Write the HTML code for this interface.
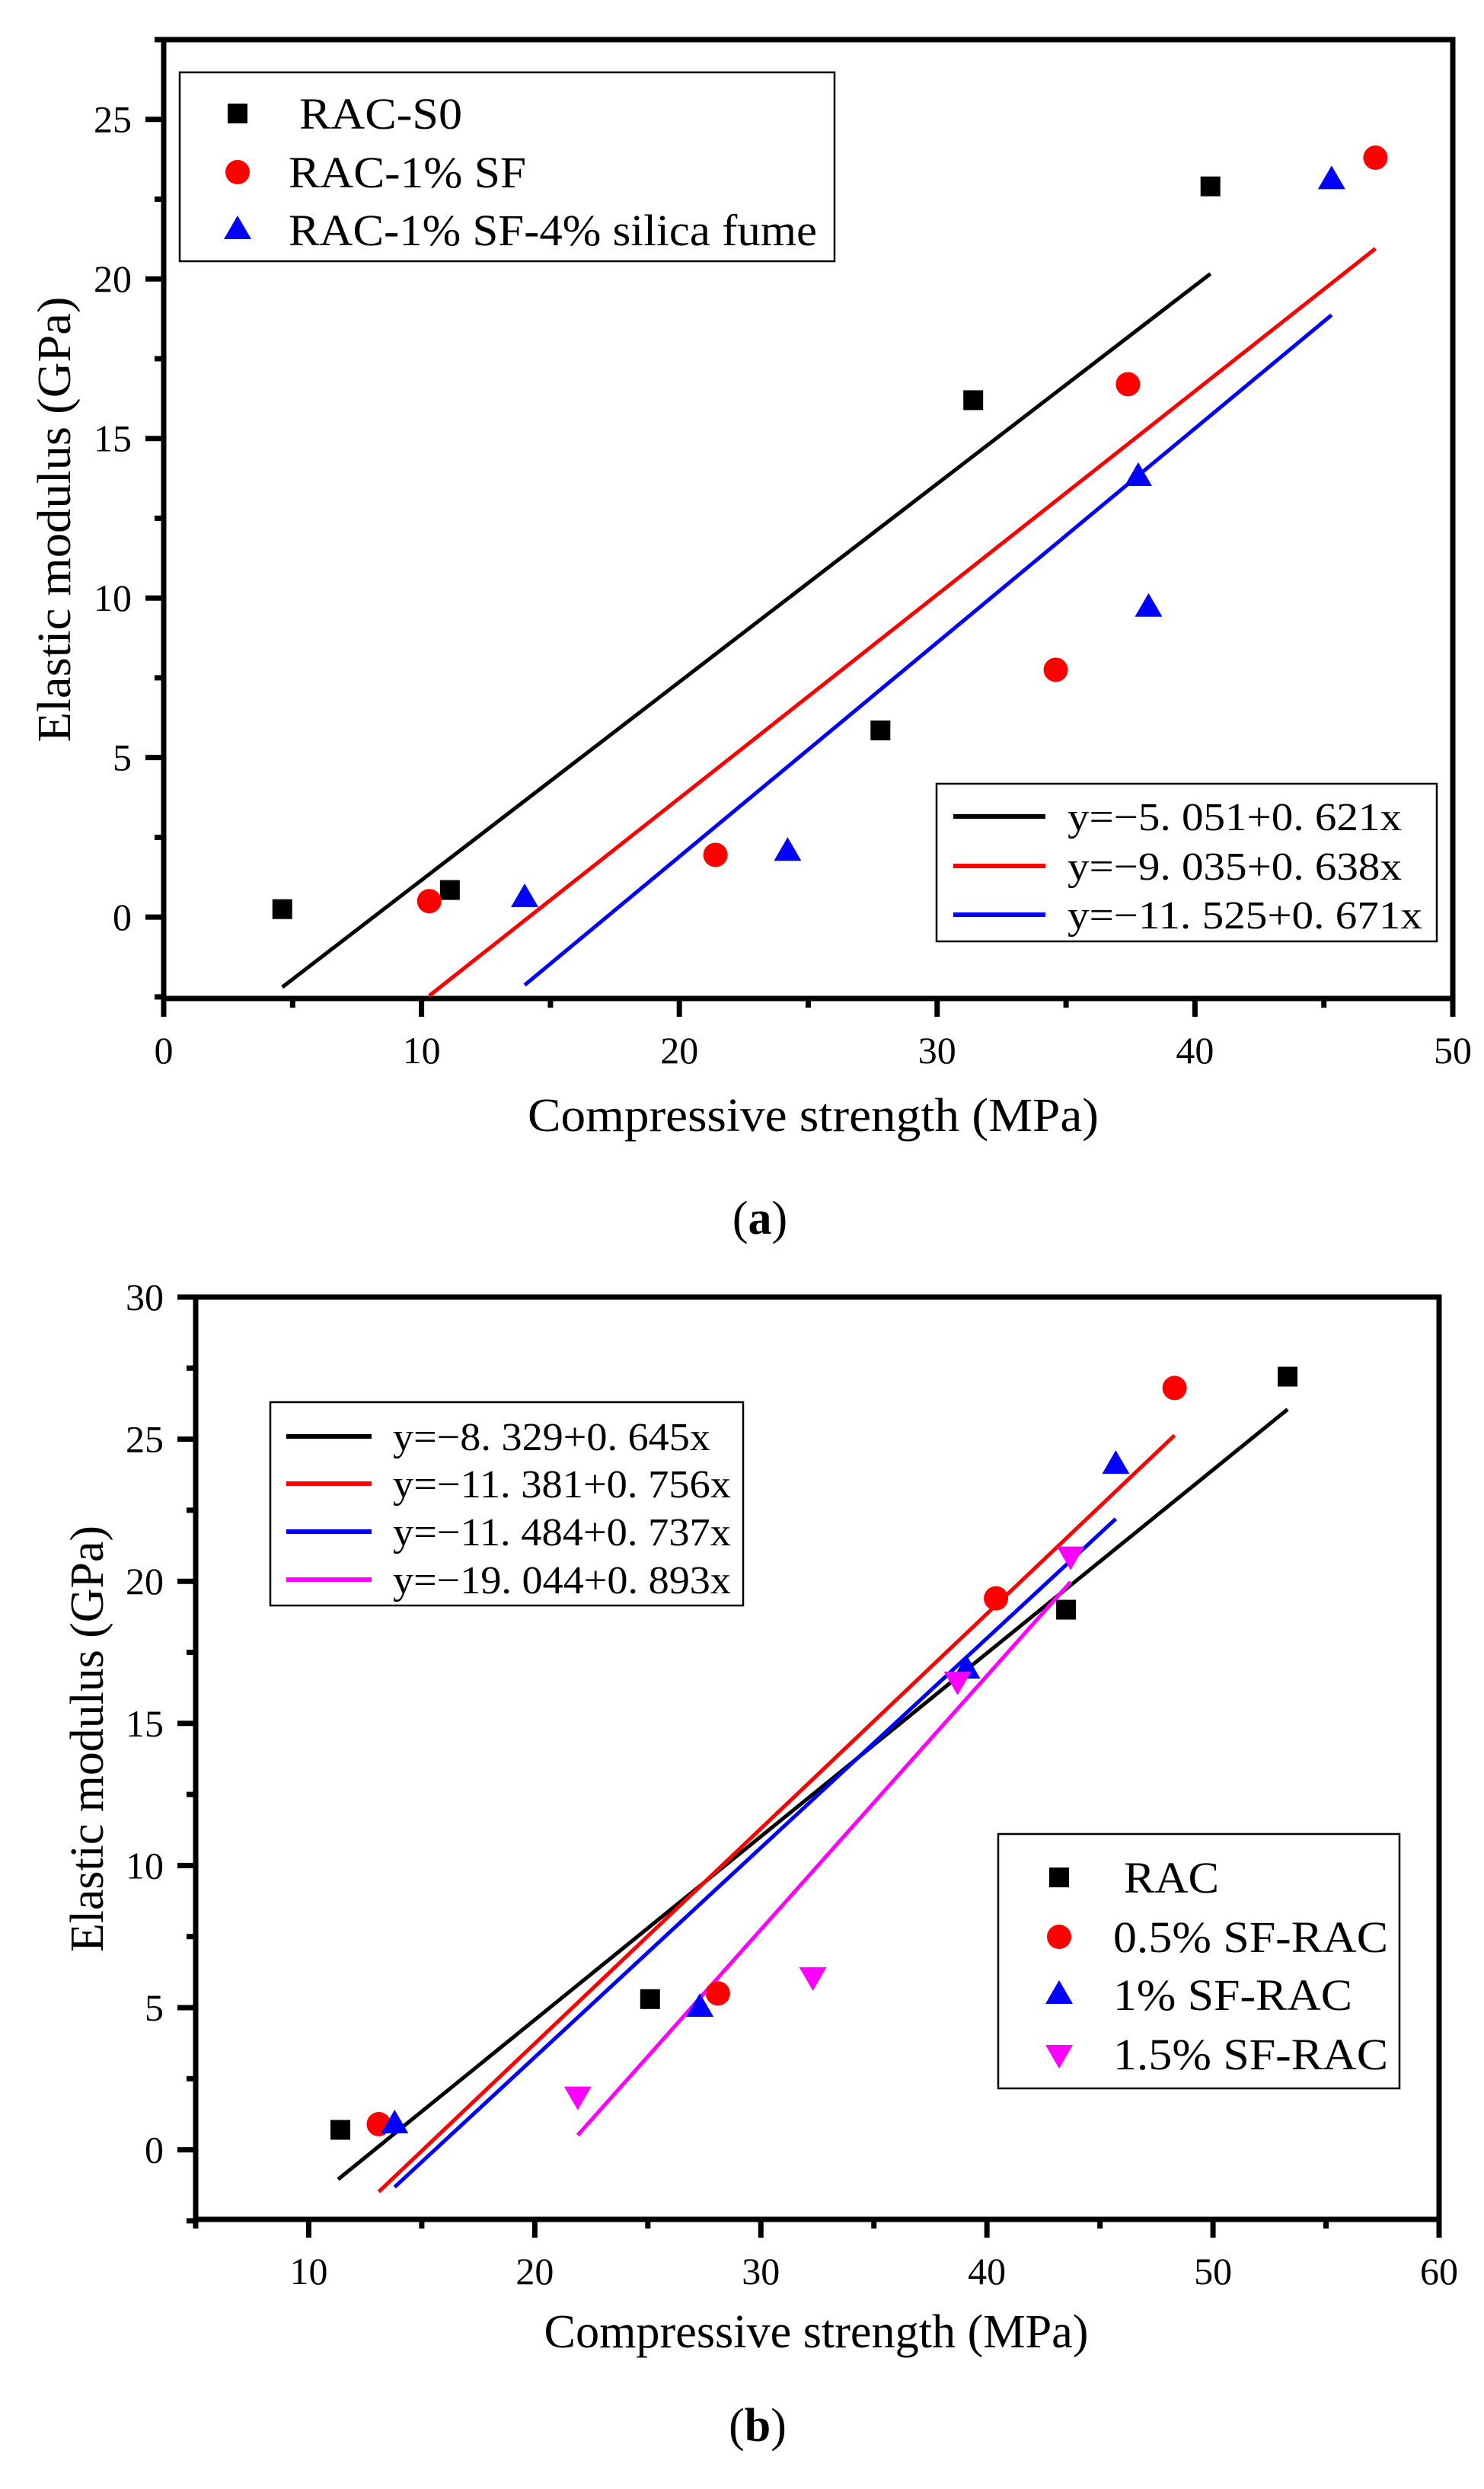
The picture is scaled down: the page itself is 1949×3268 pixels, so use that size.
<!DOCTYPE html>
<html><head><meta charset="utf-8">
<style>
html,body{margin:0;padding:0;background:#fff;}
svg{display:block;}
text{font-family:"Liberation Serif",serif;fill:#000;}
</style></head>
<body>
<svg id="fig" width="1949" height="3268" viewBox="0 0 1949 3268" xmlns="http://www.w3.org/2000/svg"></svg>
<script>
// ---------- Chart (a) data ----------
const aSeriesNames = ["RAC-S0", "RAC-1% SF", "RAC-1% SF-4% silica fume"];
const aS0x = [4.6, 11.1, 27.8, 31.4, 40.6];
const aS0y = [0.25, 0.85, 5.85, 16.2, 22.9];
const aSFx = [10.3, 21.4, 34.6, 37.4, 47.0];
const aSFy = [0.5, 1.95, 7.75, 16.7, 23.8];
const aSiX = [14.0, 24.2, 37.8, 38.2, 45.3];
const aSiY = [0.6, 2.05, 13.8, 9.7, 23.1];
const aFitIntercept = [-5.051, -9.035, -11.525];
const aFitSlope = [0.621, 0.638, 0.671];
const aFitStart = [4.6, 10.3, 14.0];
const aFitEnd = [40.6, 47.0, 45.3];
const aFitLabels = ["y=\u22125. 051+0. 621x", "y=\u22129. 035+0. 638x", "y=\u221211. 525+0. 671x"];
const aXTicks = [0, 10, 20, 30, 40, 50];
const aYTicks = [0, 5, 10, 15, 20, 25];

// ---------- Chart (b) data ----------
const bSeriesNames = ["RAC", "0.5% SF-RAC", "1% SF-RAC", "1.5% SF-RAC"];
const bRACx = [11.4, 25.1, 43.5, 53.3];
const bRACy = [0.7, 5.3, 19.0, 27.2];
const bSF05x = [13.1, 28.1, 40.4, 48.3];
const bSF05y = [0.9, 5.5, 19.4, 26.8];
const bSF1x = [13.8, 27.3, 39.1, 45.7];
const bSF1y = [0.9, 5.0, 16.9, 24.1];
const bSF15x = [21.9, 32.3, 38.7, 43.7];
const bSF15y = [1.9, 6.1, 16.5, 20.9];
const bFitIntercept = [-8.329, -11.381, -11.484, -19.044];
const bFitSlope = [0.645, 0.756, 0.737, 0.893];
const bFitStart = [11.3, 13.1, 13.8, 21.9];
const bFitEnd = [53.3, 48.3, 45.7, 43.7];
const bFitLabels = ["y=\u22128. 329+0. 645x", "y=\u221211. 381+0. 756x", "y=\u221211. 484+0. 737x", "y=\u221219. 044+0. 893x"];
const bXTicks = [10, 20, 30, 40, 50, 60];
const bYTicks = [0, 5, 10, 15, 20, 25, 30];

const NS = "http://www.w3.org/2000/svg";
const FONT = '"Liberation Serif", serif';
const svg = document.getElementById("fig");
function mk(tag, attrs, parent) {
  const e = document.createElementNS(NS, tag);
  for (const k in attrs) e.setAttribute(k, attrs[k]);
  if (tag === "text") e.setAttribute("font-family", FONT);
  (parent || svg).appendChild(e);
  return e;
}
function marker(g, shape, cx, cy, color) {
  let e;
  if (shape === "square") e = mk("rect", {x: cx - 13, y: cy - 13, width: 26, height: 26, fill: color}, g);
  else if (shape === "circle") e = mk("circle", {cx: cx, cy: cy, r: 16, fill: color}, g);
  else if (shape === "up") e = mk("polygon", {points: `${cx},${cy - 19} ${cx - 18},${cy + 12} ${cx + 18},${cy + 12}`, fill: color}, g);
  else e = mk("polygon", {points: `${cx},${cy + 19} ${cx - 18},${cy - 12} ${cx + 18},${cy - 12}`, fill: color}, g);
  return e;
}

function drawChart(c) {
  const g = mk("g", {});
  
  
  const sx = v => c.L + (v - c.xmin) / (c.xmax - c.xmin) * (c.R - c.L);
  const sy = v => c.B - (v - c.ymin) / (c.ymax - c.ymin) * (c.B - c.T);
  const fr = mk("rect", {x: c.L, y: c.T, width: c.R - c.L, height: c.B - c.T, fill: "none", stroke: "#000", "stroke-width": 7}, g);
  
  
  for (let v = c.xminor0; v <= c.xmax + 0.001; v += c.xminorStep) {
    const major = c.xTicks.some(t => Math.abs(t - v) < 1e-6);
    const t = mk("line", {x1: sx(v), x2: sx(v), y1: c.B, y2: c.B + (major ? 24 : 12), stroke: "#000", "stroke-width": 7}, g);
    
    
  }
  c.xTicks.forEach(v => {
    const t = mk("text", {x: sx(v), y: c.B + 85, "text-anchor": "middle", "font-size": 50}, g);
    t.textContent = v;
    
    
  });
  for (let v = c.yminor0; v <= c.ymax + 0.001; v += c.yminorStep) {
    const major = c.yTicks.some(t => Math.abs(t - v) < 1e-6);
    const t = mk("line", {x1: c.L, x2: c.L - (major ? 24 : 12), y1: sy(v), y2: sy(v), stroke: "#000", "stroke-width": 7}, g);
    
    
  }
  c.yTicks.forEach(v => {
    const t = mk("text", {x: c.L - 42, y: sy(v) + 17, "text-anchor": "end", "font-size": 50}, g);
    t.textContent = v;
    
    
  });
  c.fits.forEach((f, i) => {
    const ln = mk("line", {x1: sx(f.s), y1: sy(f.a + f.b * f.s), x2: sx(f.e), y2: sy(f.a + f.b * f.e), stroke: f.color, "stroke-width": 5}, g);
    
    
  });
  c.series.forEach((s) => {
    s.xs.forEach((xv, i) => {
      const m = marker(g, s.shape, sx(xv), sy(s.ys[i]), s.color);
      
      
    });
  });
  const xt = mk("text", {x: c.xTitle[0], y: c.xTitle[1], "text-anchor": "middle", "font-size": 62, textLength: c.xTitle[2], lengthAdjust: "spacingAndGlyphs"}, g);
  xt.textContent = "Compressive strength (MPa)";
  
  
  const yt = mk("text", {x: 0, y: 0, "text-anchor": "middle", "font-size": 62, textLength: c.yTitle[2], lengthAdjust: "spacingAndGlyphs", transform: `translate(${c.yTitle[0]},${c.yTitle[1]}) rotate(-90)`}, g);
  yt.textContent = "Elastic modulus (GPa)";
  
  
  const pl = mk("text", {x: c.panel[0], y: c.panel[1], "text-anchor": "middle", "font-size": 62}, g);
  pl.innerHTML = '(<tspan font-weight="bold">' + c.panel[2] + '</tspan>)';
  
  
  const ml = mk("g", {}, g);
  
  
  const mlb = c.mLeg;
  mk("rect", {x: mlb.x, y: mlb.y, width: mlb.w, height: mlb.h, fill: "#fff", stroke: "#000", "stroke-width": 2.5}, ml);
  c.series.forEach((s, i) => {
    const ent = mk("g", {}, ml);
    
    
    marker(ent, s.shape, mlb.mx, mlb.rows[i], s.color);
    const t = mk("text", {x: mlb.tx[i], y: mlb.rows[i] + 20, "font-size": 58, textLength: mlb.tw[i], lengthAdjust: "spacingAndGlyphs"}, ent);
    t.textContent = s.label;
  });
  const fl = mk("g", {}, g);
  
  
  const flb = c.fLeg;
  mk("rect", {x: flb.x, y: flb.y, width: flb.w, height: flb.h, fill: "#fff", stroke: "#000", "stroke-width": 2.5}, fl);
  c.fits.forEach((f, i) => {
    const ent = mk("g", {}, fl);
    
    
    mk("line", {x1: flb.lx1, x2: flb.lx2, y1: flb.rows[i], y2: flb.rows[i], stroke: f.color, "stroke-width": 6}, ent);
    const t = mk("text", {x: flb.tx, y: flb.rows[i] + 18, "font-size": 52, textLength: flb.tw[i], lengthAdjust: "spacingAndGlyphs"}, ent);
    t.textContent = f.label;
  });
}

drawChart({
  name: "chart-a", L: 215, R: 1908, T: 52, B: 1311,
  xmin: 0, xmax: 50, ymin: -2.55, ymax: 27.5,
  xTicks: aXTicks, yTicks: aYTicks, xminor0: 0, xminorStep: 5, yminor0: -2.5, yminorStep: 2.5,
  series: [
    {key: "rac-s0", label: aSeriesNames[0], xs: aS0x, ys: aS0y, shape: "square", color: "#000"},
    {key: "rac-1sf", label: aSeriesNames[1], xs: aSFx, ys: aSFy, shape: "circle", color: "#ff0000"},
    {key: "rac-1sf-4sf", label: aSeriesNames[2], xs: aSiX, ys: aSiY, shape: "up", color: "#0000ff"}
  ],
  fits: [0, 1, 2].map(i => ({a: aFitIntercept[i], b: aFitSlope[i], s: aFitStart[i], e: aFitEnd[i], label: aFitLabels[i], color: ["#000", "#ff0000", "#0000ff"][i]})),
  xTitle: [1068, 1485, 750], yTitle: [92, 682, 585], panel: [998, 1620, "a"],
  mLeg: {x: 236, y: 95, w: 860, h: 248, mx: 312, rows: [149, 226, 302], tx: [393, 379, 379], tw: [214, 312, 694]},
  fLeg: {x: 1230, y: 1029, w: 657, h: 207, lx1: 1252, lx2: 1373, rows: [1072, 1137, 1201], tx: 1402, tw: [439, 439, 466]}
});

drawChart({
  name: "chart-b", L: 257, R: 1890, T: 1703, B: 2914,
  xmin: 5, xmax: 60, ymin: -2.45, ymax: 30,
  xTicks: bXTicks, yTicks: bYTicks, xminor0: 5, xminorStep: 5, yminor0: -2.5, yminorStep: 2.5,
  series: [
    {key: "rac", label: bSeriesNames[0], xs: bRACx, ys: bRACy, shape: "square", color: "#000"},
    {key: "sf05", label: bSeriesNames[1], xs: bSF05x, ys: bSF05y, shape: "circle", color: "#ff0000"},
    {key: "sf1", label: bSeriesNames[2], xs: bSF1x, ys: bSF1y, shape: "up", color: "#0000ff"},
    {key: "sf15", label: bSeriesNames[3], xs: bSF15x, ys: bSF15y, shape: "down", color: "#ff00ff"}
  ],
  fits: [0, 1, 2, 3].map(i => ({a: bFitIntercept[i], b: bFitSlope[i], s: bFitStart[i], e: bFitEnd[i], label: bFitLabels[i], color: ["#000", "#ff0000", "#0000ff", "#ff00ff"][i]})),
  xTitle: [1072, 3082, 715], yTitle: [135, 2283, 560], panel: [995, 3205, "b"],
  mLeg: {x: 1311, y: 2408, w: 527, h: 334, mx: 1391, rows: [2465, 2543, 2619, 2697], tx: [1476, 1462, 1462, 1462], tw: [125, 361, 314, 361]},
  fLeg: {x: 355, y: 1841, w: 621, h: 267, lx1: 376, lx2: 488, rows: [1886, 1948, 2011, 2074], tx: 516, tw: [417, 444, 444, 444]}
});
</script>
</body></html>
